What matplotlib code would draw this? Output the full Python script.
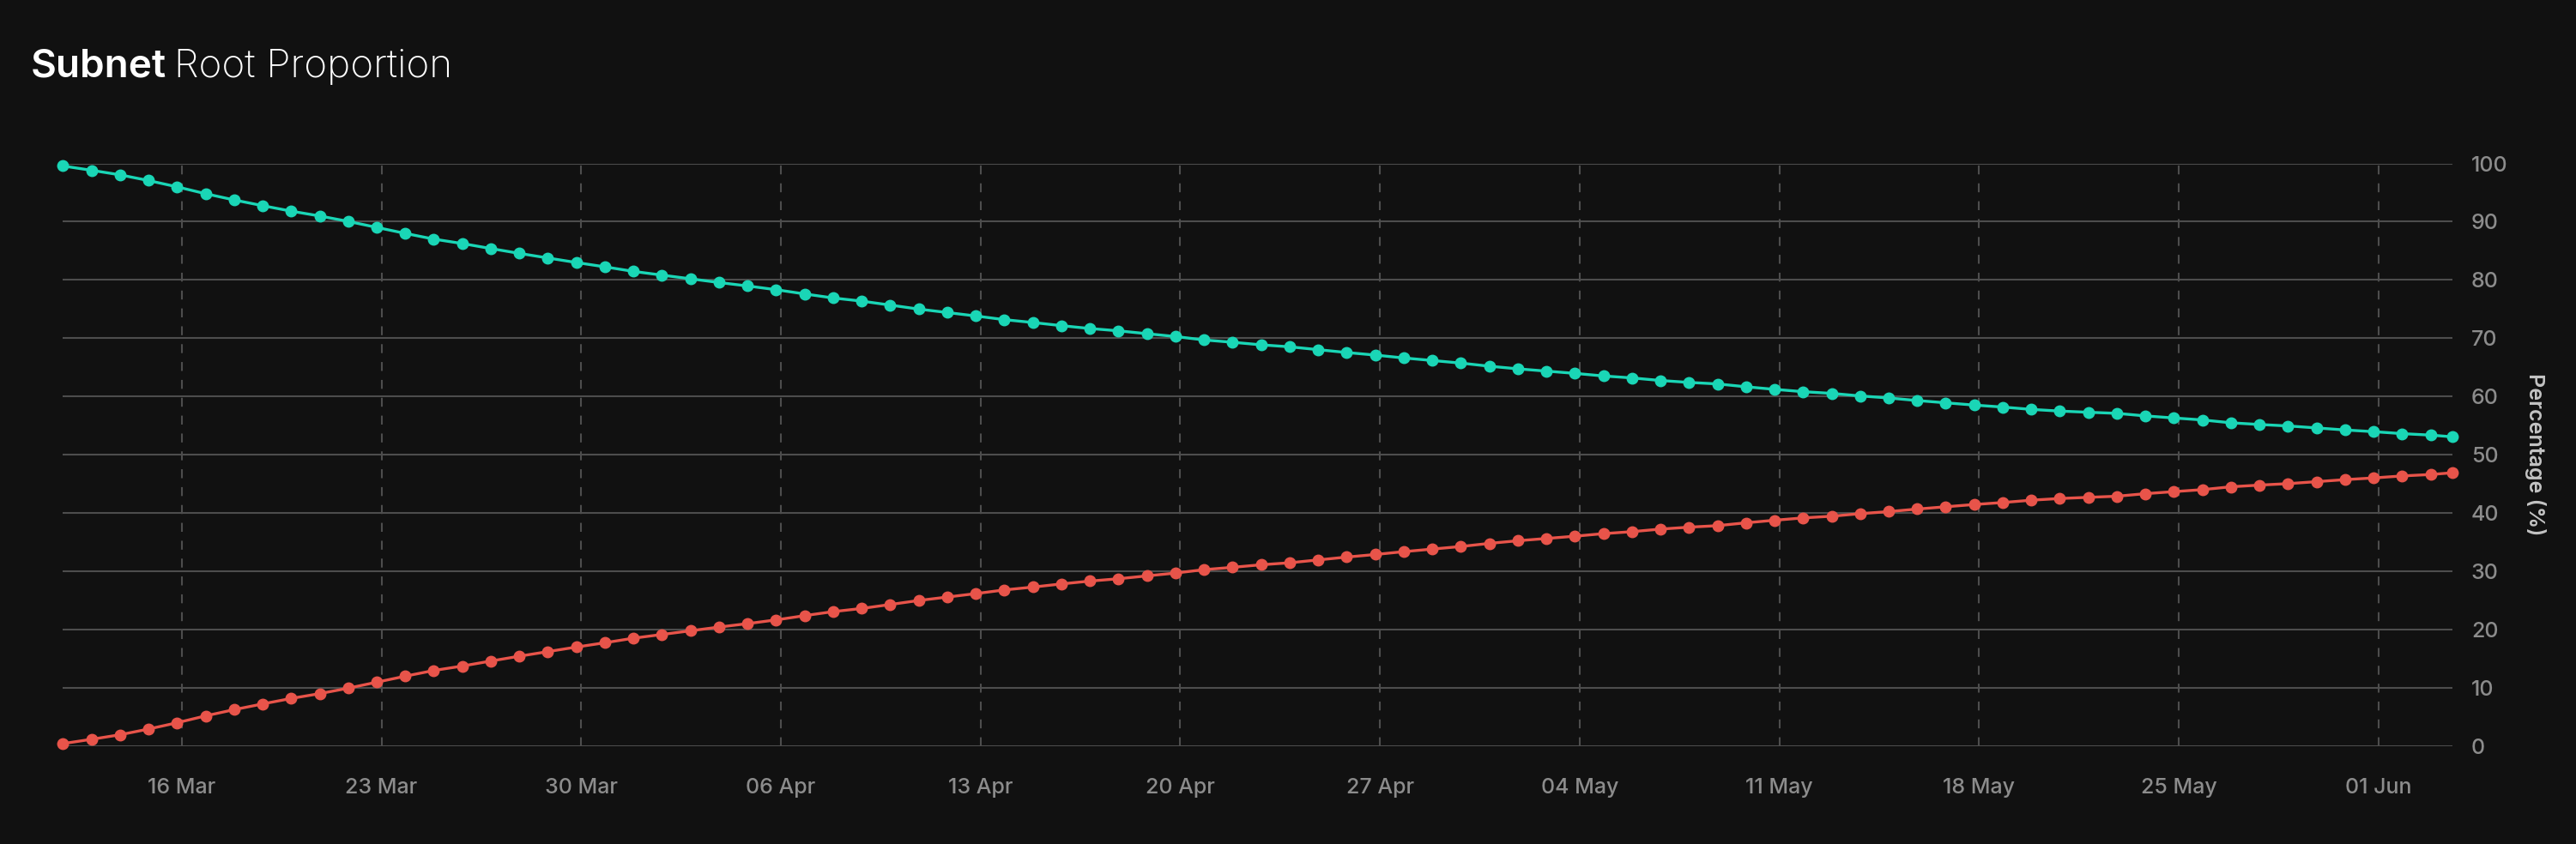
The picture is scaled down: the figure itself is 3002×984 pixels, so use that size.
import matplotlib
matplotlib.use('Agg')
import matplotlib.pyplot as plt
import matplotlib.dates as mdates
import pandas as pd

plt.rcParams['font.family'] = ['Inter', 'DejaVu Sans']

# daily snapshots, last one is the partial current day
dates = list(pd.date_range('2025-03-11 20:00', '2025-06-02 20:00', freq='D')) + [pd.Timestamp('2025-06-03 14:00')]

root_pct = [
    99.56, 98.82, 98.04, 97.06, 95.98, 94.80, 93.73, 92.75, 91.81, 90.98,
    90.05, 89.02, 87.99, 87.01, 86.25, 85.39, 84.56, 83.77, 82.99, 82.25,
    81.47, 80.83, 80.20, 79.56, 78.97, 78.33, 77.60, 76.91, 76.37, 75.69,
    75.00, 74.41, 73.82, 73.19, 72.70, 72.16, 71.67, 71.27, 70.78, 70.29,
    69.71, 69.31, 68.87, 68.53, 68.04, 67.55, 67.11, 66.62, 66.18, 65.74,
    65.20, 64.75, 64.36, 63.97, 63.53, 63.19, 62.75, 62.42, 62.16, 61.67,
    61.23, 60.83, 60.54, 60.10, 59.75, 59.31, 58.92, 58.53, 58.19, 57.79,
    57.50, 57.30, 57.11, 56.67, 56.32, 55.98, 55.49, 55.20, 54.95, 54.61,
    54.26, 53.97, 53.63, 53.38, 53.09,
]

subnet_pct = [
    0.44, 1.18, 1.96, 2.94, 4.02, 5.20, 6.27, 7.25, 8.19, 9.02,
    9.95, 10.98, 12.01, 12.99, 13.75, 14.61, 15.44, 16.23, 17.01, 17.75,
    18.53, 19.17, 19.80, 20.44, 21.03, 21.67, 22.40, 23.09, 23.63, 24.31,
    25.00, 25.59, 26.18, 26.81, 27.30, 27.84, 28.33, 28.73, 29.22, 29.71,
    30.29, 30.69, 31.13, 31.47, 31.96, 32.45, 32.89, 33.38, 33.82, 34.26,
    34.80, 35.25, 35.64, 36.03, 36.47, 36.81, 37.25, 37.58, 37.84, 38.33,
    38.77, 39.17, 39.46, 39.90, 40.25, 40.69, 41.08, 41.47, 41.81, 42.21,
    42.50, 42.70, 42.89, 43.33, 43.68, 44.02, 44.51, 44.80, 45.05, 45.39,
    45.74, 46.03, 46.37, 46.62, 46.91,
]

y_ticks = [0, 10, 20, 30, 40, 50, 60, 70, 80, 90, 100]

bg = '#111111'
teal = '#1ad6b6'
red = '#e8544a'
grid_col = '#4d4d4d'
tick_col = '#8c8c8c'

fig = plt.figure(figsize=(30.02, 9.84), dpi=100, facecolor=bg)
ax = fig.add_axes([0.02442, 0.1159, 0.92748, 0.6905])
ax.set_facecolor(bg)

ax.plot(dates, root_pct, color=teal, lw=2.4, marker='o', ms=9, clip_on=False, zorder=3)
ax.plot(dates, subnet_pct, color=red, lw=2.4, marker='o', ms=9, clip_on=False, zorder=3)

ax.set_xlim(dates[0], dates[-1])
ax.set_ylim(0, 100)
ax.set_yticks(y_ticks)

ax.xaxis.set_major_locator(mdates.WeekdayLocator(byweekday=mdates.SU))
ax.xaxis.set_major_formatter(mdates.DateFormatter('%d %b'))

ax.yaxis.tick_right()
ax.tick_params(axis='y', length=0, pad=16, labelsize=18, labelcolor=tick_col)
ax.tick_params(axis='x', length=0, pad=27, labelsize=18, labelcolor=tick_col)
for lab in ax.get_yticklabels():
    lab.set_ha('left')
    lab.set_fontweight('medium')
for lab in ax.get_xticklabels():
    lab.set_fontweight('medium')

ax.grid(axis='y', color=grid_col, lw=1.5, ls='-')
ax.grid(axis='x', color=grid_col, lw=1.5, ls=(0, (5, 5)))
ax.set_axisbelow(True)
for s in ax.spines.values():
    s.set_visible(False)

fig.text(2955 / 3002, 1 - 530 / 984, 'Percentage (%)', rotation=270, ha='center', va='center',
         fontsize=18, color='#c4c4c4', fontweight='semibold')

# two-weight title
t1 = fig.text(36 / 3002, 1 - 90 / 984, 'Subnet', fontsize=33, fontweight='semibold', color='white',
              ha='left', va='baseline')
fig.canvas.draw()
bb = t1.get_window_extent()
fig.text((bb.x1 + 9) / 3002, 1 - 90 / 984, 'Root Proportion', fontsize=33, fontweight='light',
         color='white', ha='left', va='baseline')

fig.savefig('out.png', dpi=100, facecolor=bg)
